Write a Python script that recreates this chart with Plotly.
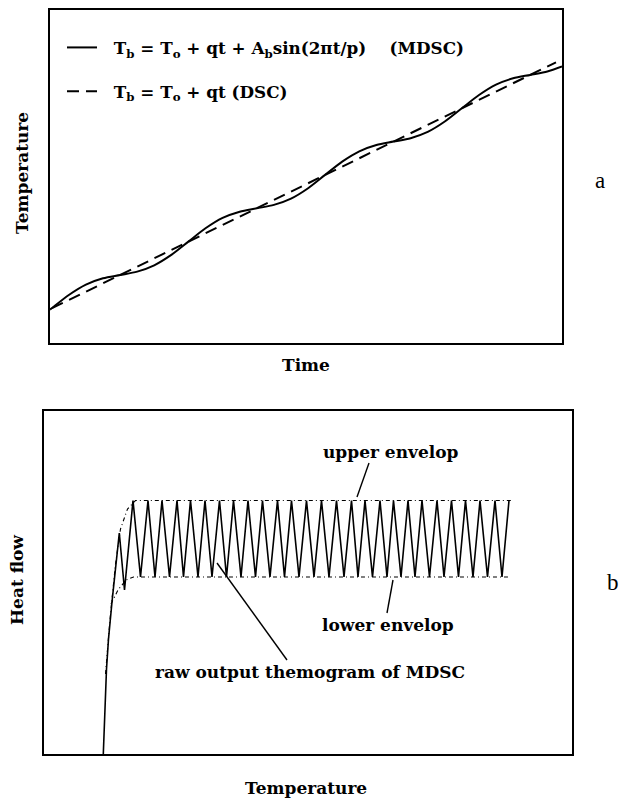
import plotly.graph_objects as go

# ---------------- Panel a data (arbitrary units: time / temperature) ----------------
mdsc_time = [0.0, 1.7, 18.8, 35.9, 53.0, 70.1, 87.2, 104.2, 121.3, 138.4, 155.5, 172.6,
             189.7, 206.8, 223.9, 241.0, 258.1, 275.1, 292.2, 309.3, 326.4, 343.5, 360.6,
             377.7, 394.8, 411.9, 429.0, 446.0, 463.1, 480.2, 497.3, 512.0]
mdsc_temp = [33.4, 34.7, 48.0, 58.4, 64.7, 68.0, 71.4, 77.7, 88.1, 101.4, 114.7, 125.1,
             131.3, 134.7, 138.1, 144.4, 154.8, 168.1, 181.4, 191.7, 198.0, 201.4, 204.8,
             211.1, 221.5, 234.8, 248.0, 258.4, 264.7, 268.1, 271.5, 276.6]
dsc_time = [2.0, 506.0]
dsc_temp = [34.8, 280.7]

# ---------------- Panel b data (arbitrary units: temperature / heat flow) ----------------
rise_temp = [59.8, 61.3, 63.0, 65.0, 67.0, 68.5, 75.8, 81.0]
rise_flow = [0.0, 45.0, 85.0, 115.0, 138.0, 152.0, 221.0, 164.0]
peak_temp = [89.5, 104.5, 118.5, 133.5, 147.0, 161.5, 176.0, 190.0, 204.5, 219.0, 234.0,
             248.0, 263.0, 278.0, 293.0, 308.0, 321.5, 336.5, 350.0, 364.5, 378.5, 393.5,
             408.0, 422.0, 436.5, 451.5, 465.5]
trough_temp = [97.0, 111.5, 126.0, 140.0, 154.5, 168.5, 183.0, 197.5, 212.0, 226.5, 241.0,
               255.5, 270.5, 285.5, 300.5, 314.5, 329.0, 343.5, 357.5, 371.5, 386.0, 400.5,
               415.0, 429.5, 444.0, 458.5]
peak_flow = 253.5
trough_flow = 177.0
upper_env_temp = [62.0, 67.0, 72.0, 77.0, 84.0, 92.0, 468.5]
upper_env_flow = [80.0, 140.0, 190.0, 225.0, 245.0, 253.5, 253.5]
lower_env_temp = [67.5, 74.5, 82.5, 90.0, 466.5]
lower_env_flow = [150.0, 164.0, 174.0, 177.0, 177.0]

# annotation texts / anchor points (data units of panel b)
ann_labels = ["upper envelop", "lower envelop", "raw output themogram of MDSC"]
ann_text_pos = [(346.5, 302.0), (344.5, 129.0), (266.5, 82.0)]
ann_pointer_from = [(325.5, 291.0), (349.5, 174.0), (173.5, 191.0)]
ann_pointer_to = [(313.5, 257.0), (343.5, 141.0), (243.5, 94.0)]

# build zigzag series from read peaks / troughs
zz_temp = list(rise_temp)
zz_flow = list(rise_flow)
for i, pt in enumerate(peak_temp):
    zz_temp.append(pt)
    zz_flow.append(peak_flow)
    if i < len(trough_temp):
        zz_temp.append(trough_temp[i])
        zz_flow.append(trough_flow)

W, H = 623, 798
FONT = "DejaVu Serif"
BOLD = dict(family=FONT, weight="bold", color="black")

fig = go.Figure()

# Panel a traces
fig.add_trace(go.Scatter(
    x=mdsc_time, y=mdsc_temp, mode="lines",
    line=dict(color="black", width=2, shape="spline", smoothing=0.8),
    name="&nbsp;&nbsp;T<sub>b</sub> = T<sub>o</sub> + qt + A<sub>b</sub>sin(2πt/p) &nbsp;&nbsp;&nbsp;(MDSC)",
    legendgroup="g1", xaxis="x", yaxis="y"))
fig.add_trace(go.Scatter(
    x=dsc_time, y=dsc_temp, mode="lines", line=dict(color="black", width=2, dash="12px,7px"),
    name="&nbsp;&nbsp;T<sub>b</sub> = T<sub>o</sub> + qt (DSC)",
    legendgroup="g2", xaxis="x", yaxis="y"))

# Panel b traces
fig.add_trace(go.Scatter(
    x=upper_env_temp, y=upper_env_flow, mode="lines",
    line=dict(color="black", width=1.1, dash="4px,3px,1px,3px"),
    showlegend=False, xaxis="x2", yaxis="y2"))
fig.add_trace(go.Scatter(
    x=lower_env_temp, y=lower_env_flow, mode="lines",
    line=dict(color="black", width=1.1, dash="4px,3px,1px,3px"),
    showlegend=False, xaxis="x2", yaxis="y2"))
fig.add_trace(go.Scatter(
    x=zz_temp, y=zz_flow, mode="lines", line=dict(color="black", width=1.6),
    showlegend=False, xaxis="x2", yaxis="y2"))

# pointer lines
for (x0, y0), (x1, y1) in zip(ann_pointer_from, ann_pointer_to):
    fig.add_shape(type="line", xref="x2", yref="y2", x0=x0, y0=y0, x1=x1, y1=y1,
                  line=dict(color="black", width=1.4))

annotations = []
for txt, (tx, ty) in zip(ann_labels, ann_text_pos):
    annotations.append(dict(x=tx, y=ty, xref="x2", yref="y2", text=txt, showarrow=False,
                            font=dict(size=17, **BOLD),
                            xanchor="center", yanchor="middle"))

def paper(px, py):
    return px / W, 1 - py / H

labels = [
    ("Temperature", 22, 173, -90, 17, True),
    ("Time", 305.7, 365, 0, 17, True),
    ("a", 600, 180, 0, 23, False),
    ("Heat flow", 17, 580, -90, 17, True),
    ("Temperature", 305.6, 788, 0, 17, True),
    ("b", 613, 582, 0, 23, False),
]
for txt, px, py, ang, sz, bold in labels:
    x, y = paper(px, py)
    f = dict(size=sz, **BOLD) if bold else dict(family="Liberation Serif", size=sz, color="black")
    annotations.append(dict(x=x, y=y, xref="paper", yref="paper", text=txt, showarrow=False,
                            textangle=ang, font=f, xanchor="center", yanchor="middle"))

axis_common = dict(showgrid=False, zeroline=False, showticklabels=False, ticks="",
                   showline=True, linecolor="black", linewidth=1.8, mirror=True, fixedrange=True)

fig.update_layout(
    width=W, height=H, margin=dict(l=0, r=0, t=0, b=0),
    paper_bgcolor="white", plot_bgcolor="white",
    xaxis=dict(domain=[50 / W, 562 / W], range=[0, 512], anchor="y", **axis_common),
    yaxis=dict(domain=[1 - 343 / H, 1 - 10 / H], range=[0, 333], anchor="x", **axis_common),
    xaxis2=dict(domain=[43.5 / W, 571.7 / W], range=[0, 528.2], anchor="y2", **axis_common),
    yaxis2=dict(domain=[1 - 754 / H, 1 - 411 / H], range=[0, 343], anchor="x2", **axis_common),
    legend=dict(x=62 / W, y=1 - 30 / H, xanchor="left", yanchor="top",
                bgcolor="rgba(0,0,0,0)", tracegroupgap=19, itemwidth=30,
                font=dict(size=16.8, **BOLD)),
    annotations=annotations,
    showlegend=True,
)

fig.write_html("out.html")
